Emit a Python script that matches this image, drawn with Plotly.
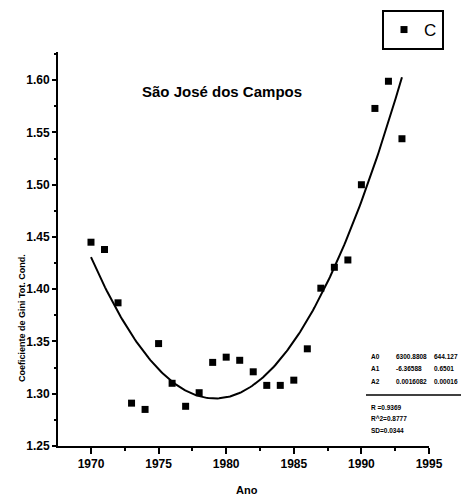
import numpy as np
import plotly.graph_objects as go

years = [1970, 1971, 1972, 1973, 1974, 1975, 1976, 1977, 1978, 1979, 1980, 1981,
         1982, 1983, 1984, 1985, 1986, 1987, 1988, 1989, 1990, 1991, 1992, 1993]
gini = [1.445, 1.438, 1.387, 1.291, 1.285, 1.348, 1.310, 1.288, 1.301, 1.330, 1.335, 1.332,
        1.321, 1.308, 1.308, 1.313, 1.343, 1.401, 1.421, 1.428, 1.500, 1.573, 1.599, 1.544]
x_ticks = [1970, 1975, 1980, 1985, 1990, 1995]
y_ticks = [1.25, 1.30, 1.35, 1.40, 1.45, 1.50, 1.55, 1.60]

title_text = "São José dos Campos"
x_title = "Ano"
y_title = "Coeficiente de Gini Tot. Cond."
legend_name = "C"

# quadratic least-squares fit of the data
x = np.array(years, dtype=float)
y = np.array(gini)
coef, cov = np.polyfit(x, y, 2, cov=True)
err = np.sqrt(np.diag(cov))
a2, a1, a0 = coef
e2, e1, e0 = err
fit_x = np.linspace(x.min(), x.max(), 200)
fit_y = np.polyval(coef, fit_x)
pred = np.polyval(coef, x)
ss_res = np.sum((y - pred) ** 2)
ss_tot = np.sum((y - y.mean()) ** 2)
r2 = 1 - ss_res / ss_tot
sd = np.sqrt(ss_res / (len(x) - 3))

FONT = "Liberation Sans, Arial, sans-serif"

fig = go.Figure()
fig.add_trace(go.Scatter(x=years, y=gini, mode="markers", name=legend_name,
                         marker=dict(symbol="square", size=7, color="black")))
fig.add_trace(go.Scatter(x=fit_x, y=fit_y, mode="lines", showlegend=False,
                         line=dict(color="black", width=2)))

OFF = 8  # page body margin
W, H = 474, 500
pw, ph = 371, 394
L, T = 58 - OFF, 52 - OFF
R, B = W - L - pw, H - T - ph


def px(xp):
    return (xp - OFF - L) / pw


def py(yp):
    return (T + ph - (yp - OFF)) / ph


annotations = [
    dict(text=title_text, x=px(222), y=py(91), xref="paper", yref="paper",
         showarrow=False, font=dict(size=15, family=FONT, color="black", weight="bold"),
         xanchor="center", yanchor="middle"),
    dict(text=y_title, x=px(22), y=py(318), xref="paper", yref="paper", textangle=-90,
         showarrow=False, font=dict(size=9, family=FONT, color="black", weight="bold"),
         xanchor="center", yanchor="middle"),
    dict(text=x_title, x=px(247), y=py(490), xref="paper", yref="paper",
         showarrow=False, font=dict(size=11, family=FONT, color="black", weight="bold"),
         xanchor="center", yanchor="middle"),
]

stat_rows = [
    ("A0", f"{a0:.4f}", f"{e0:.3f}"),
    ("A1", f"{a1:.5f}", f"{e1:.4f}"),
    ("A2", f"{a2:.7f}", f"{e2:.5f}"),
]
for i, (lab, val, er) in enumerate(stat_rows):
    yy = py(356 + 12.5 * i)
    for xx, t in ((369, lab), (394, val), (432, er)):
        annotations.append(dict(text=t, x=px(xx), y=yy, xref="paper", yref="paper",
                                showarrow=False, xanchor="left", yanchor="middle",
                                font=dict(size=6.5, family=FONT, color="black", weight="bold")))
for i, t in enumerate([f"R =0.{int(round(np.sqrt(r2)*10000)):04d}",
                       f"R^2=0.{int(round(r2*10000)):04d}",
                       f"SD=0.{int(round(sd*10000)):04d}"]):
    annotations.append(dict(text=t, x=px(369), y=py(407 + 11.5 * i), xref="paper", yref="paper",
                            showarrow=False, xanchor="left", yanchor="middle",
                            font=dict(size=6.5, family=FONT, color="black", weight="bold")))

shapes = [dict(type="line", xref="paper", yref="paper", x0=px(366), x1=px(461),
               y0=py(395), y1=py(395), line=dict(color="black", width=1.5))]

fig.update_layout(
    width=W, height=H,
    margin=dict(l=L, r=R, t=T, b=B, autoexpand=False),
    paper_bgcolor="white", plot_bgcolor="white",
    font=dict(family=FONT, color="black"),
    annotations=annotations, shapes=shapes,
    showlegend=True,
    legend=dict(x=px(382), y=py(10), xanchor="left", yanchor="top",
                bordercolor="black", borderwidth=2, bgcolor="white",
                font=dict(size=17, family=FONT, color="black"),
                itemwidth=30, tracegroupgap=0),
    xaxis=dict(range=[1967.56, 1995], tickvals=x_ticks, ticktext=[str(v) for v in x_ticks],
               showgrid=False, zeroline=False, showline=True, linecolor="black", linewidth=2,
               ticks="outside", ticklen=6, tickwidth=1.5, tickcolor="black",
               minor=dict(dtick=2.5, ticks="outside", ticklen=3, tickcolor="black", showgrid=False),
               tickfont=dict(size=12, family=FONT, color="black", weight="bold")),
    yaxis=dict(range=[1.25, 1.627], tickvals=y_ticks, ticktext=[f"{v:.2f}" for v in y_ticks],
               showgrid=False, zeroline=False, showline=True, linecolor="black", linewidth=2,
               ticks="outside", ticklen=4, tickwidth=1.5, tickcolor="black",
               minor=dict(dtick=0.025, ticks="outside", ticklen=2, tickcolor="black", showgrid=False),
               tickfont=dict(size=12, family=FONT, color="black", weight="bold")),
)

fig.write_html("out.html")
